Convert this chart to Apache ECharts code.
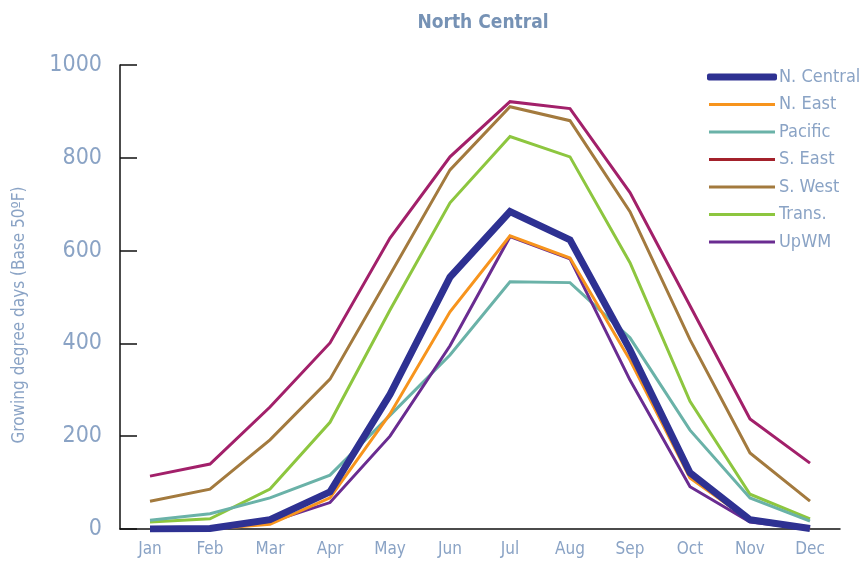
<!DOCTYPE html>
<html>
<head>
<meta charset="utf-8">
<script src="https://cdn.jsdelivr.net/npm/echarts@6/dist/echarts.min.js"></script>
<style>html,body{margin:0;padding:0;background:#fff}#c{width:864px;height:562px}</style>
</head>
<body>
<div id="c"></div>
<script>
const months = ['Jan','Feb','Mar','Apr','May','Jun','Jul','Aug','Sep','Oct','Nov','Dec'];
const nCentral = [0, 1, 20, 80, 290, 543, 684, 623, 386, 121, 20, 1];
const nEast    = [0, 0, 10, 67, 248, 468, 632, 584, 364, 110, 18, 0];
const pacific  = [19, 33, 67, 116, 245, 375, 533, 531, 412, 213, 67, 17];
const sEast    = [114, 140, 263, 401, 627, 802, 921, 906, 725, 481, 237, 142];
const sWest    = [60, 86, 192, 323, 548, 774, 910, 880, 684, 408, 164, 60];
const trans    = [15, 22, 86, 230, 472, 703, 846, 802, 574, 275, 75, 22];
const upWM     = [0, 0, 15, 57, 200, 395, 630, 582, 321, 91, 15, 0];
const yTicks   = [0, 200, 400, 600, 800, 1000];

const FONT = '"DejaVu Sans Condensed","Liberation Sans Narrow","Roboto",sans-serif';
const LBL = '#8aa3c5';

function ser(name, data, color, width, z) {
  return {
    name, type: 'line', data, symbol: 'none', z,
    lineStyle: { color, width, join: 'miter' },
    itemStyle: { color },
    emphasis: { disabled: true }
  };
}

const chart = echarts.init(document.getElementById('c'), null, { renderer: 'canvas' });
chart.setOption({
  animation: false,
  title: {
    text: 'North Central', left: 478, top: 9, textAlign: 'center',
    textStyle: { fontFamily: FONT, fontSize: 19, fontWeight: 'bold', color: '#7692b5' }
  },
  legend: {
    orient: 'vertical', left: 702, top: 63,
    icon: 'rect', itemWidth: 66, itemHeight: 3, itemGap: 9.5,
    textStyle: { fontFamily: FONT, fontSize: 18, color: LBL, padding: [0,0,0,-1] },
    data: [
      { name: 'N. Central', itemStyle: { color: '#2e3192', borderColor: '#2e3192', borderWidth: 4, borderJoin: 'round' } },
      { name: 'N. East' },
      { name: 'Pacific' },
      { name: 'S. East', itemStyle: { color: '#a3212b' } },
      { name: 'S. West' },
      { name: 'Trans.' },
      { name: 'UpWM' }
    ]
  },
  grid: { left: 120, right: 24, top: 65, bottom: 33, containLabel: false },
  xAxis: {
    type: 'category', data: months, boundaryGap: true,
    axisLine: { lineStyle: { color: '#111', width: 1.5 } },
    axisTick: { inside: true, length: 10, lineStyle: { color: '#111', width: 1.5 } },
    axisLabel: { fontFamily: FONT, fontSize: 17, color: LBL, margin: 12 }
  },
  yAxis: {
    type: 'value', min: yTicks[0], max: yTicks[yTicks.length - 1], interval: 200,
    name: 'Growing degree days (Base 50ºF)', nameLocation: 'middle', nameGap: 92,
    nameTextStyle: { fontFamily: FONT, fontSize: 17, color: LBL, padding: [0, 36, 0, 0] },
    axisLine: { show: true, lineStyle: { color: '#111', width: 1.5 } },
    axisTick: { show: true, inside: true, length: 17, lineStyle: { color: '#111', width: 1.5 } },
    splitLine: { show: false },
    axisLabel: { fontFamily: FONT, fontSize: 23, color: LBL, margin: 18, formatter: v => String(v) }
  },
  series: [
    ser('N. Central', nCentral, '#2e3192', 7, 6),
    ser('N. East', nEast, '#f7941d', 3, 5),
    ser('Pacific', pacific, '#6ab2a8', 3, 3),
    ser('S. East', sEast, '#a2206a', 3, 2),
    ser('S. West', sWest, '#a37a3e', 3, 2),
    ser('Trans.', trans, '#8dc63f', 3, 2),
    ser('UpWM', upWM, '#6a2c91', 3, 4)
  ]
});
</script>
</body>
</html>
